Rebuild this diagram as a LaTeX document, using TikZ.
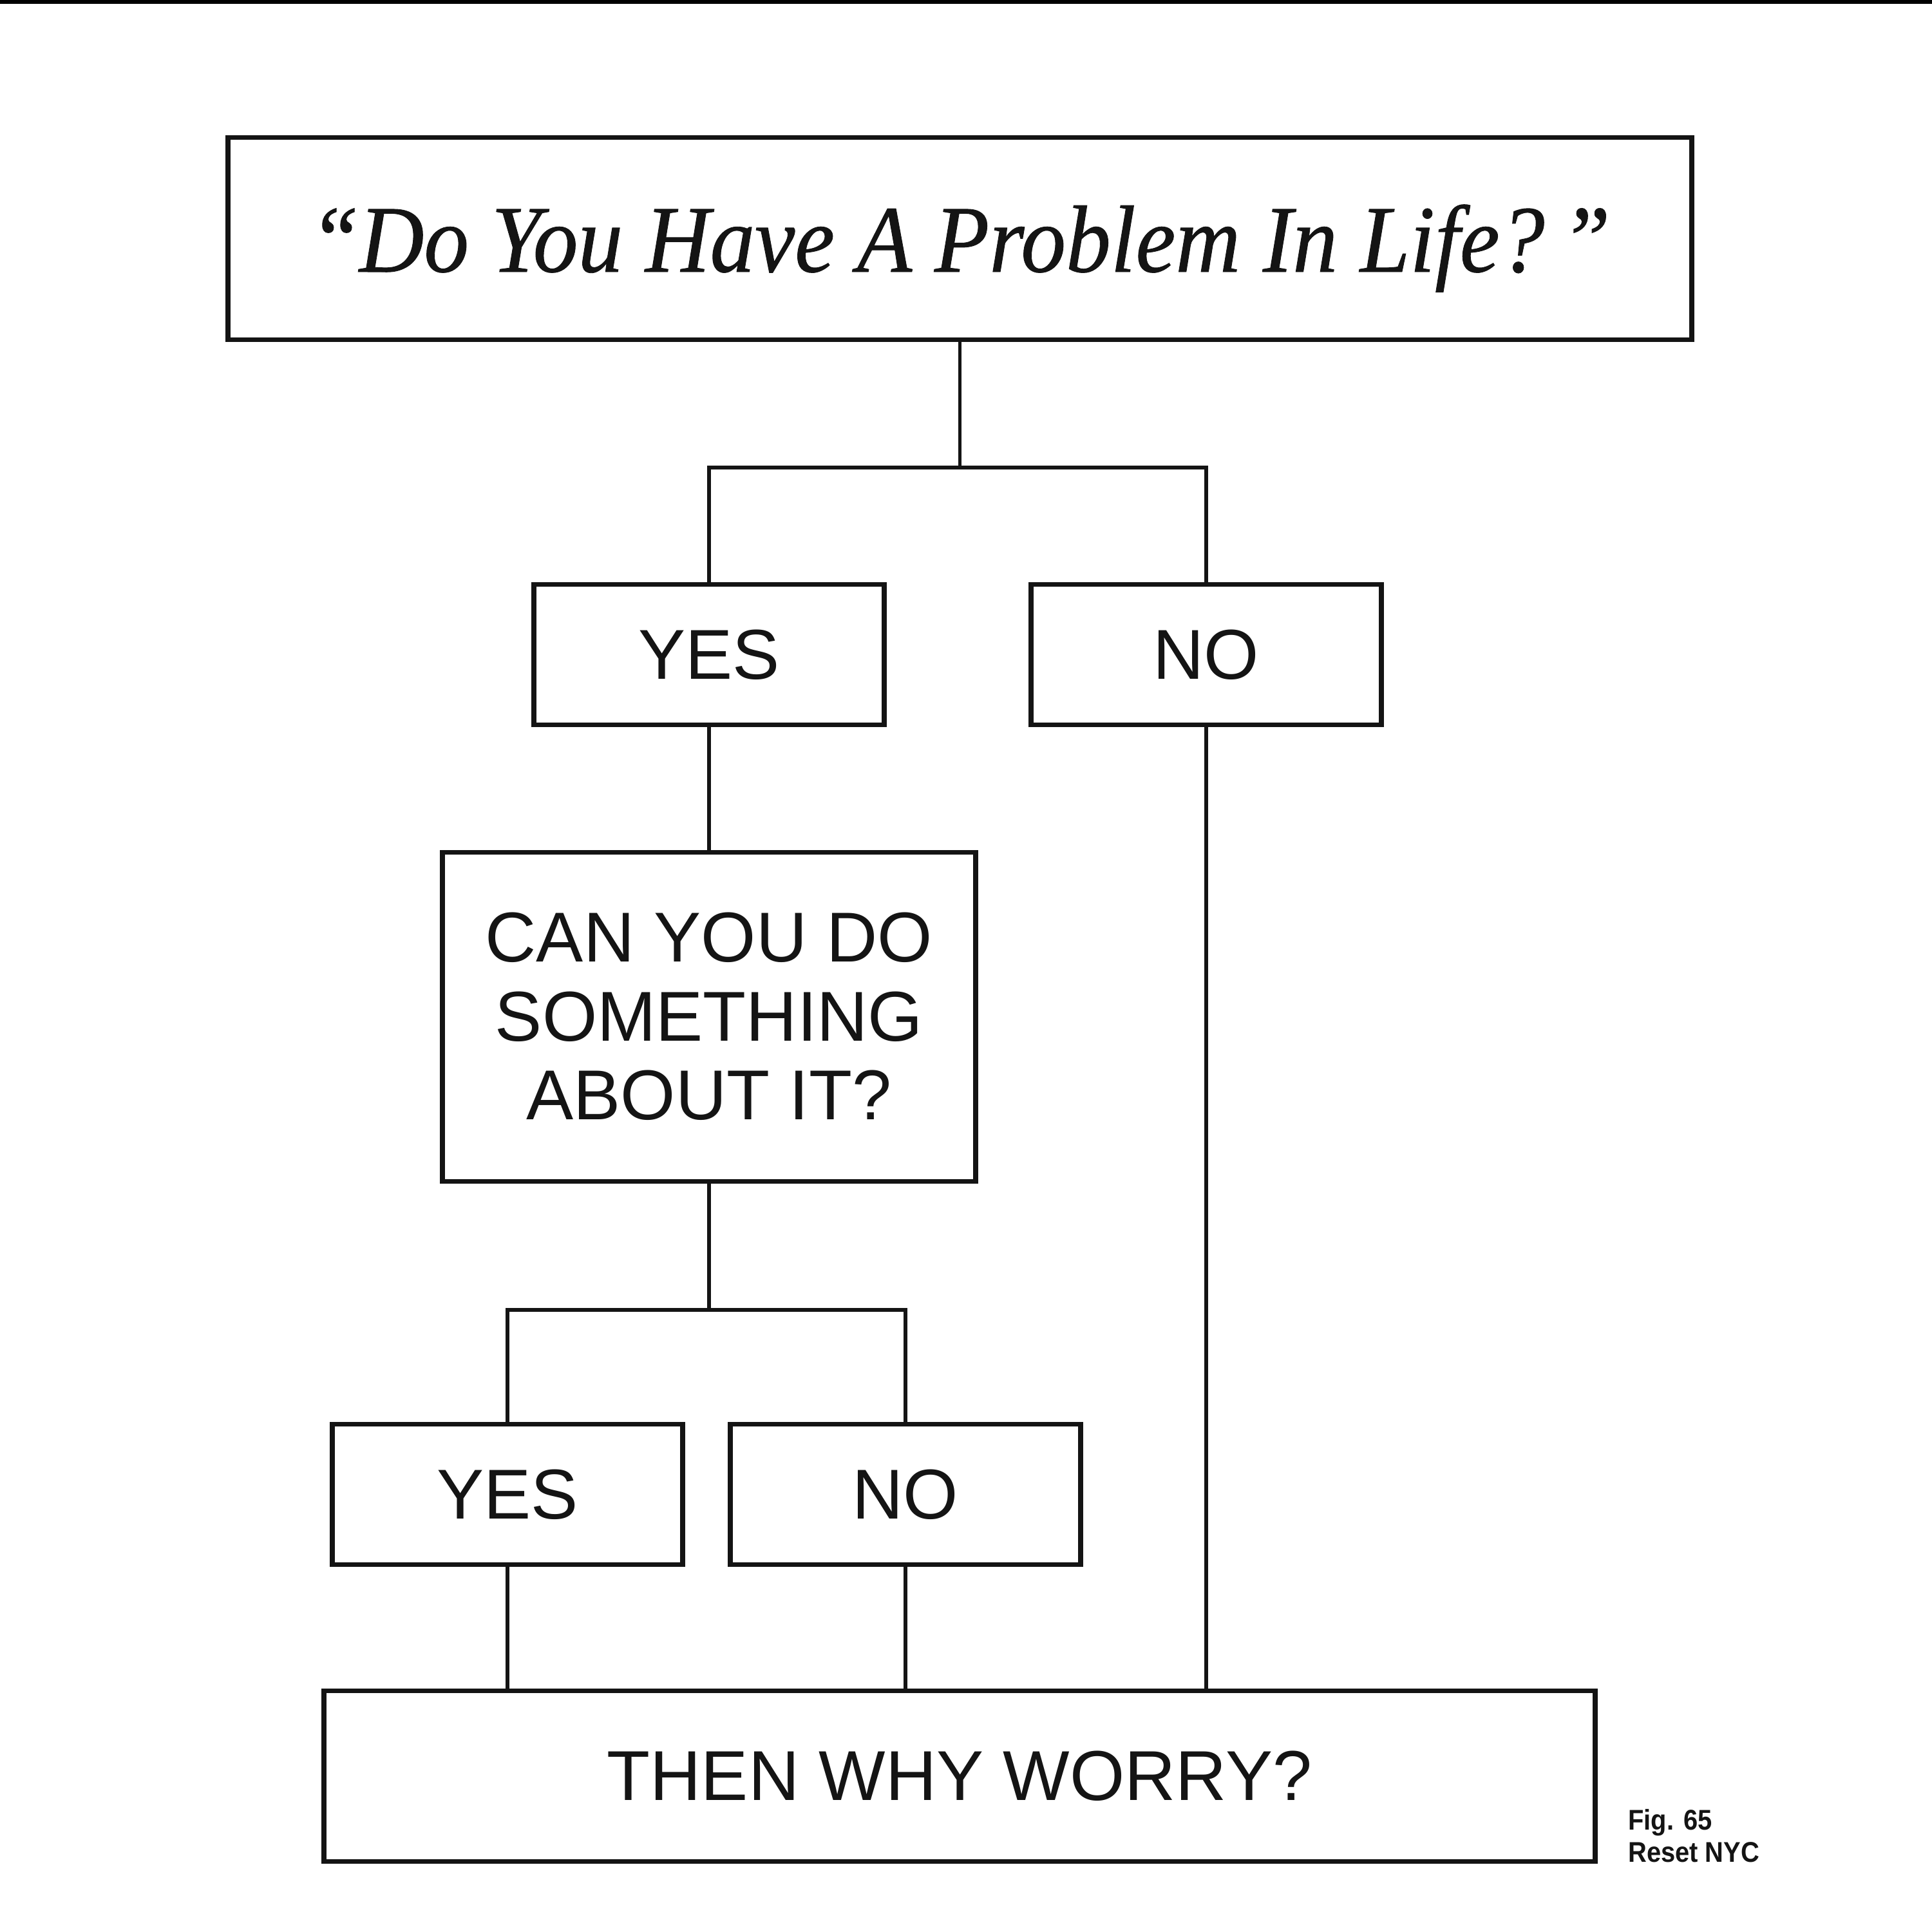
\documentclass[tikz,border=0pt]{standalone}
\usepackage{fontspec}
\setmainfont{Liberation Serif}
\setsansfont{Liberation Sans}
\newfontfamily\titlefont[FakeStretch=0.94, FakeBold=0.6]{Liberation Serif}
\newfontfamily\figfont[FakeStretch=0.9]{Liberation Sans}
\usetikzlibrary{positioning, calc}
\definecolor{inkc}{RGB}{20,20,20}
\tikzset{
  box/.style={
    rectangle, draw=inkc, line width=1pt, align=center, inner sep=0pt,
    font=\sffamily\fontsize{15.6}{17.4}\selectfont, text=inkc
  },
  answer/.style={box, minimum width=2.72cm, minimum height=1.09cm},
  titlebox/.style={box, minimum width=11.365cm, minimum height=1.57cm,
    text height=0.62cm, text depth=0.1cm,
    font=\titlefont\itshape\fontsize{21.1}{25}\selectfont},
  link/.style={draw=inkc, line width=0.85pt},
  note/.style={font=\figfont\bfseries\fontsize{6.3}{7.1}\selectfont, text=inkc,
    align=left, inner sep=0pt},
}

\begin{document}
\begin{tikzpicture}

  \useasboundingbox (0,0) rectangle (15,-15);
  \fill[white] (0,0) rectangle (15,-15);
  \fill[black] (0,0) rectangle (15,-0.03);

  \node[titlebox] (life) at (7.4525,-1.85)
    {“Do You Have A Problem In Life?\,”};

  \node[answer] (yes1) at (5.505,-5.0825) {YES};
  \node[answer] (no1) at (9.365,-5.0825) {NO};

  \node[box, minimum width=4.14cm, minimum height=2.555cm] (cando) at (5.505,-7.8925)
    {CAN YOU DO\\SOMETHING\\ABOUT IT?};

  \node[answer] (yes2) at (3.94,-11.6025) {YES};
  \node[answer] (no2) at (7.03,-11.6025) {NO};

  \node[box, minimum width=9.87cm, minimum height=1.325cm] (worry) at (7.45,-13.7875)
    {THEN WHY WORRY?};

  \node[note, anchor=north west] (fig) at (12.635,-14.04)
    {Fig. 65\\Reset NYC};

  % first split
  \draw[link] (life.south) -- ++(0,-0.975) -| (yes1.north);
  \draw[link] (life.south) -- ++(0,-0.975) -| (no1.north);
  \draw[link] (yes1.south) -- (cando.north);

  % second split
  \draw[link] (cando.south) -- ++(0,-0.98) -| (yes2.north);
  \draw[link] (cando.south) -- ++(0,-0.98) -| (no2.north);

  % everything ends in the same place
  \foreach \n in {yes2,no2,no1} {
    \draw[link] (\n.south) -- (\n.south |- worry.north);
  }

\end{tikzpicture}
\end{document}
